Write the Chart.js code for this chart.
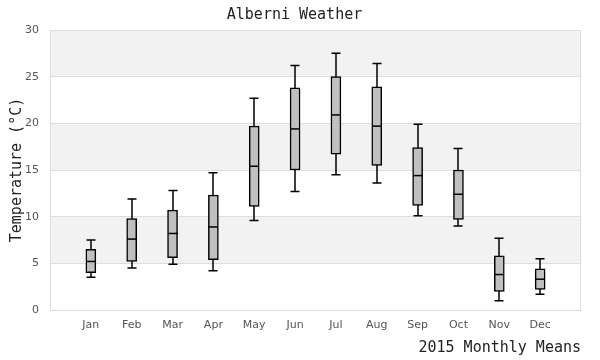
<!DOCTYPE html>
<html>
<head>
<meta charset="utf-8">
<script src="https://cdn.jsdelivr.net/npm/chart.js@4"></script>
<style>
  html, body { margin: 0; padding: 0; background: #fff; }
  #wrap { width: 600px; height: 360px; }
</style>
</head>
<body>
<div id="wrap"><canvas id="chart" width="600" height="360"></canvas></div>
<script>
const months = ['Jan', 'Feb', 'Mar', 'Apr', 'May', 'Jun', 'Jul', 'Aug', 'Sep', 'Oct', 'Nov', 'Dec'];
const lows    = [3.5, 4.5, 4.9, 4.2, 9.6, 12.7, 14.5, 13.6, 10.1, 9.0, 1.0, 1.7];
const q1      = [4.0, 5.2, 5.6, 5.4, 11.1, 15.0, 16.7, 15.5, 11.2, 9.7, 2.0, 2.2];
const medians = [5.2, 7.6, 8.2, 8.9, 15.4, 19.4, 20.9, 19.7, 14.4, 12.4, 3.8, 3.3];
const q3      = [6.5, 9.8, 10.7, 12.3, 19.7, 23.8, 25.0, 23.9, 17.4, 15.0, 5.8, 4.4];
const highs   = [7.5, 11.9, 12.8, 14.7, 22.7, 26.2, 27.5, 26.4, 19.9, 17.3, 7.7, 5.5];
const yTicks  = [0, 5, 10, 15, 20, 25, 30];

const mono = '"DejaVu Sans Mono", monospace';
const sans = '"DejaVu Sans", sans-serif';

// alternating grey bands + frame round the plot
const bands = {
  id: 'bands',
  beforeDraw(chart) {
    const { ctx, chartArea: a, scales: { y } } = chart;
    ctx.save();
    ctx.fillStyle = '#f2f2f2';
    for (let i = 0; i < yTicks.length - 1; i++) {
      if (i % 2 === 0) continue;
      const top = y.getPixelForValue(yTicks[i + 1]);
      const bot = y.getPixelForValue(yTicks[i]);
      ctx.fillRect(a.left, top, a.right - a.left, bot - top);
    }
    ctx.restore();
  },
  afterDraw(chart) {
    const { ctx, chartArea: a } = chart;
    ctx.save();
    ctx.strokeStyle = '#dddddd';
    ctx.lineWidth = 1;
    ctx.strokeRect(a.left + 0.5, a.top + 0.5, a.right - a.left - 1, a.bottom - a.top);
    ctx.restore();
  }
};

// whiskers behind the boxes, medians on top
const boxParts = {
  id: 'boxParts',
  beforeDatasetsDraw(chart) {
    const { ctx, scales: { x, y } } = chart;
    ctx.save();
    ctx.strokeStyle = '#000';
    ctx.lineWidth = 1.5;
    months.forEach((m, i) => {
      const cx = Math.round(x.getPixelForValue(i + 1));
      const lo = y.getPixelForValue(lows[i]);
      const hi = y.getPixelForValue(highs[i]);
      ctx.beginPath();
      ctx.moveTo(cx, lo); ctx.lineTo(cx, hi);
      ctx.moveTo(cx - 4.5, lo); ctx.lineTo(cx + 4.5, lo);
      ctx.moveTo(cx - 4.5, hi); ctx.lineTo(cx + 4.5, hi);
      ctx.stroke();
    });
    ctx.restore();
  },
  afterDatasetsDraw(chart) {
    const { ctx, scales: { x, y } } = chart;
    ctx.save();
    ctx.strokeStyle = '#000';
    ctx.lineWidth = 1.5;
    months.forEach((m, i) => {
      const cx = Math.round(x.getPixelForValue(i + 1));
      const my = y.getPixelForValue(medians[i]);
      ctx.beginPath();
      ctx.moveTo(cx - 5, my); ctx.lineTo(cx + 5, my);
      ctx.stroke();
    });
    ctx.restore();
  }
};

new Chart(document.getElementById('chart'), {
  type: 'bar',
  data: {
    datasets: [{
      label: 'IQR',
      data: months.map((m, i) => ({ x: i + 1, y: [q1[i], q3[i]] })),
      backgroundColor: '#c0c0c0',
      borderColor: '#000',
      borderWidth: 1.5,
      borderSkipped: false,
      barThickness: 10
    }]
  },
  options: {
    responsive: false,
    animation: false,
    layout: { padding: { left: 8, right: 19, top: 0, bottom: 0 } },
    plugins: {
      legend: { display: false },
      tooltip: { enabled: false },
      title: {
        display: true,
        text: 'Alberni Weather',
        color: '#222',
        font: { family: mono, size: 15, weight: 'normal' },
        padding: { top: 6, bottom: 6 }
      }
    },
    scales: {
      x: {
        type: 'linear',
        min: 0,
        max: 13,
        offset: false,
        afterBuildTicks(axis) {
          axis.ticks = months.map((m, i) => ({ value: i + 1 }));
        },
        afterFit(axis) { axis.height = 50; },
        grid: { display: false, drawTicks: false },
        border: { color: '#dddddd' },
        ticks: {
          color: '#555',
          font: { family: sans, size: 11 },
          padding: 9,
          autoSkip: false,
          maxRotation: 0,
          callback: v => months[v - 1]
        },
        title: {
          display: true,
          text: '2015 Monthly Means',
          align: 'end',
          color: '#222',
          font: { family: mono, size: 15, weight: 'normal' },
          padding: { top: 0, bottom: 3 }
        }
      },
      y: {
        min: 0,
        max: 30,
        afterBuildTicks(axis) {
          axis.ticks = yTicks.map(v => ({ value: v }));
        },
        afterFit(axis) { axis.width = 42; },
        grid: { color: '#dddddd', drawTicks: false },
        border: { color: '#dddddd' },
        ticks: {
          color: '#555',
          font: { family: sans, size: 11 },
          padding: 11
        },
        title: {
          display: true,
          text: 'Temperature (°C)',
          color: '#222',
          font: { family: mono, size: 15, weight: 'normal' },
          padding: { top: 0, bottom: 0 }
        }
      }
    }
  },
  plugins: [bands, boxParts]
});
</script>
</body>
</html>
